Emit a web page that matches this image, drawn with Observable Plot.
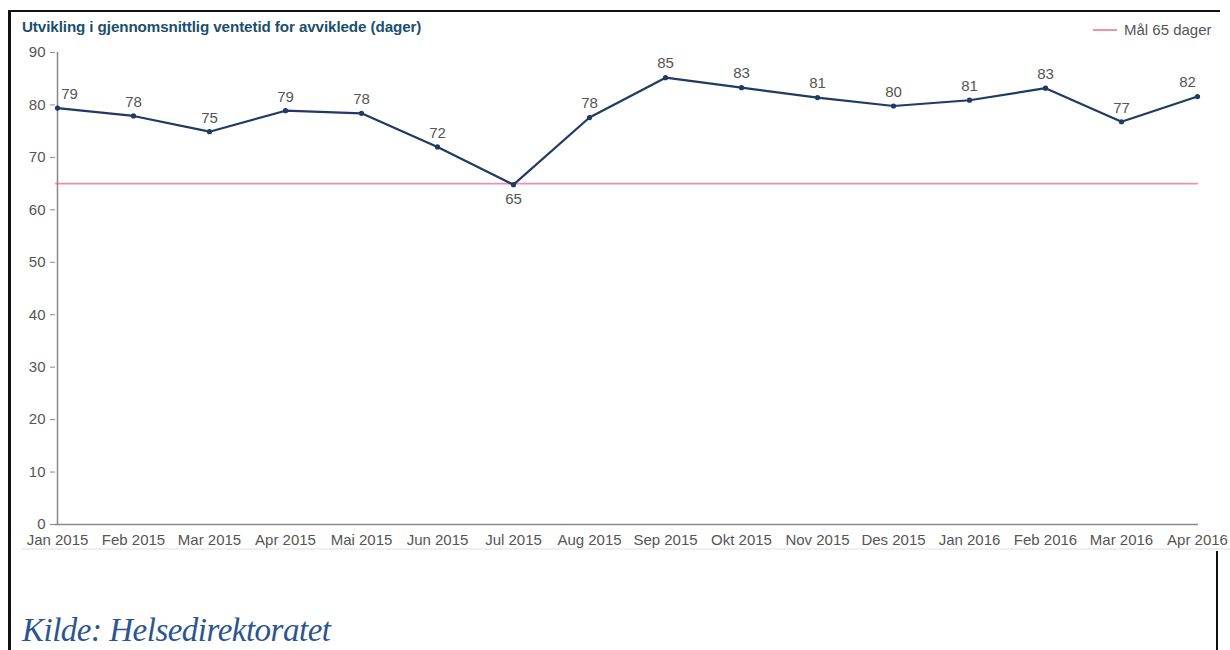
<!DOCTYPE html>
<html>
<head>
<meta charset="utf-8">
<script src="https://cdn.jsdelivr.net/npm/d3@7"></script>
<script src="https://cdn.jsdelivr.net/npm/@observablehq/plot@0.6"></script>
<style>
  html, body { margin: 0; padding: 0; background: #fff; }
  #page { position: relative; width: 1230px; height: 650px; overflow: hidden; font-family: "Liberation Sans", Arial, sans-serif; }
  #chart { position: absolute; left: 0; top: 0; }
  .title { position: absolute; left: 22px; top: 18px; font-size: 15.2px; font-weight: bold; color: #1b4f6e; letter-spacing: -0.1px; }
  .legend { position: absolute; left: 1093px; top: 21px; font-size: 15px; color: #555; display: flex; align-items: center; }
  .legend .sw { width: 24px; height: 2px; background: #f08db5; margin-right: 7px; }
  .caption { position: absolute; left: 22px; top: 615px; height: 30px; line-height: 30px; font-family: "Liberation Serif", "DejaVu Serif", serif; font-style: italic; font-size: 33px; letter-spacing: -0.5px; color: #2a568f; white-space: nowrap; }
  .bl { position: absolute; background: #111; }
  .strip { position: absolute; left: 22px; top: 548px; width: 1208px; height: 2px; background: #eef0f0; }
</style>
</head>
<body>
<div id="page">
  <div id="chart"></div>
  <div class="title">Utvikling i gjennomsnittlig ventetid for avviklede (dager)</div>
  <div class="legend"><div class="sw"></div><span>Mål 65 dager</span></div>
  <div class="strip"></div>
  <div class="bl" style="left:8px; top:10px; width:1212px; height:1.5px;"></div>
  <div class="bl" style="left:8px; top:10px; width:3px; height:640px;"></div>
  <div class="bl" style="left:1216px; top:551px; width:2px; height:99px;"></div>
  <div class="caption">Kilde: Helsedirektoratet</div>
</div>
<script>
const months = ["Jan 2015","Feb 2015","Mar 2015","Apr 2015","Mai 2015","Jun 2015","Jul 2015","Aug 2015","Sep 2015","Okt 2015","Nov 2015","Des 2015","Jan 2016","Feb 2016","Mar 2016","Apr 2016"];
const values = [79.4, 77.9, 74.9, 78.9, 78.4, 72.0, 64.8, 77.6, 85.2, 83.3, 81.4, 79.8, 80.9, 83.2, 76.8, 81.6];
const yTicks = [0,10,20,30,40,50,60,70,80,90];
const target = 65;

const data = months.map((m, i) => ({month: m, value: values[i], label: String(Math.round(values[i])), i}));
const below = data.filter(d => d.month === "Jul 2015");
const above = data.filter(d => d.month !== "Jul 2015" && d.i !== 0 && d.i !== months.length - 1);
const first = data.filter(d => d.i === 0);
const last = data.filter(d => d.i === months.length - 1);

const lineColor = "#1f3a63";
const labelStyle = {fill: "#555", fontSize: 15};

const chart = Plot.plot({
  width: 1230,
  height: 550,
  marginLeft: 55,
  marginRight: 32,
  marginTop: 52,
  marginBottom: 26,
  style: {fontFamily: "'Liberation Sans', Arial, sans-serif", fontSize: "15px", color: "#555", background: "transparent"},
  x: {type: "point", domain: months, padding: 0, label: null},
  y: {domain: [0, 90], ticks: yTicks, label: null},
  marks: [
    Plot.ruleY([target], {stroke: "#f08db5", strokeWidth: 1.6}),
    Plot.ruleY([0], {stroke: "#888", strokeWidth: 1.5}),
    Plot.ruleX([months[0]], {y1: 0, y2: 90, stroke: "#888", strokeWidth: 1.5}),
    Plot.axisY({ticks: yTicks, tickSize: 5, tickPadding: 5, stroke: "#888", fill: "#555", fontSize: 15, label: null}),
    Plot.axisX({tickSize: 0, tickPadding: 10, fill: "#555", fontSize: 15, label: null}),
    Plot.line(data, {x: "month", y: "value", stroke: lineColor, strokeWidth: 2.2}),
    Plot.dot(data, {x: "month", y: "value", r: 2.6, fill: lineColor}),
    Plot.text(above, {x: "month", y: "value", text: "label", dy: -14, ...labelStyle}),
    Plot.text(below, {x: "month", y: "value", text: "label", dy: 15, ...labelStyle}),
    Plot.text(first, {x: "month", y: "value", text: "label", dy: -14, dx: 12, ...labelStyle}),
    Plot.text(last, {x: "month", y: "value", text: "label", dy: -14, dx: -10, ...labelStyle})
  ]
});
document.getElementById("chart").appendChild(chart);
</script>
</body>
</html>
